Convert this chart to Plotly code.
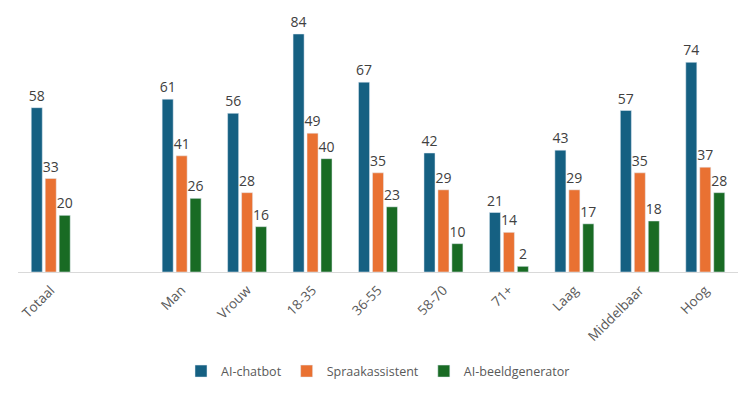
import plotly.graph_objects as go

categories = ["Totaal", " ", "Man", "Vrouw", "18-35", "36-55", "58-70", "71+", "Laag", "Middelbaar", "Hoog"]
chatbot = [58, None, 61, 56, 84, 67, 42, 21, 43, 57, 74]
spraak = [33, None, 41, 28, 49, 35, 29, 14, 29, 35, 37]
beeld = [20, None, 26, 16, 40, 23, 10, 2, 17, 18, 28]

series = [
    ("AI-chatbot", chatbot, "#156082"),
    ("Spraakassistent", spraak, "#E97132"),
    ("AI-beeldgenerator", beeld, "#196B24"),
]

FONT = "Open Sans, Liberation Sans, sans-serif"

fig = go.Figure()
for name, vals, col in series:
    fig.add_trace(go.Bar(
        x=categories, y=vals, name=name, marker_color=col,
        text=[("" if v is None else str(v)) for v in vals],
        textposition="outside", cliponaxis=False, constraintext="none",
        textfont=dict(size=14, color="#404040", family=FONT),
    ))

# page body adds an 8px margin, so the figure is 8px smaller and margins compensate
fig.update_layout(
    width=748, height=388,
    margin=dict(l=10, r=18, t=9, b=124, autoexpand=False),
    paper_bgcolor="white", plot_bgcolor="white",
    barmode="group", bargap=0.36, bargroupgap=0.21,
    font=dict(family=FONT, color="#595959", size=12),
    xaxis=dict(type="category", tickangle=-45, showline=True, linecolor="#d9d9d9", linewidth=1,
               ticks="outside", ticklen=4, tickcolor="rgba(0,0,0,0)", showgrid=False, automargin=False,
               tickfont=dict(size=13.5, color="#595959", family=FONT)),
    yaxis=dict(range=[0, 90], visible=False, showgrid=False, automargin=False),
    legend=dict(orientation="h", x=0.5, xanchor="center", y=-0.39, yanchor="middle",
                font=dict(size=12.5, color="#595959", family=FONT), itemwidth=30, traceorder="normal"),
    showlegend=True,
)

fig.write_html("out.html")
